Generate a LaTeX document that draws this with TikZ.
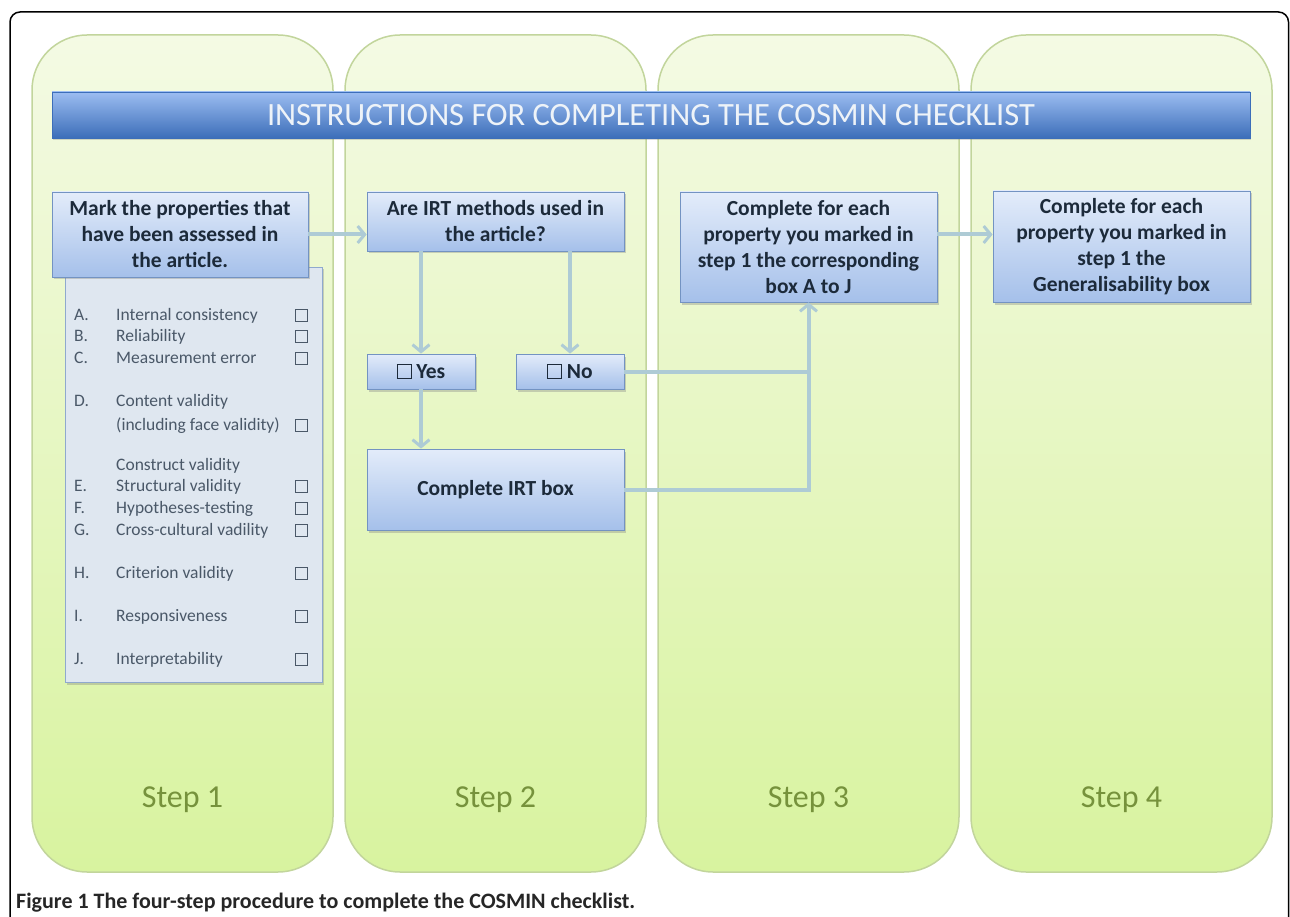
\documentclass[tikz,border=0pt]{standalone}
\usepackage{fontspec}
\setmainfont{Carlito}
\usepackage{tikz}
\usetikzlibrary{
    arrows.meta,
    shadows,
    calc,
    positioning
}
\definecolor{coltop}{HTML}{F4FAE4}
\definecolor{colbot}{HTML}{D8F39F}
\definecolor{colline}{HTML}{C2D59C}
\definecolor{boxtop}{HTML}{E3ECFA}
\definecolor{boxbot}{HTML}{A5C0EA}
\definecolor{boxline}{HTML}{7393C2}
\definecolor{boxtext}{HTML}{1C2A3A}
\definecolor{bartop}{HTML}{9CBDF1}
\definecolor{barbot}{HTML}{3C6EB9}
\definecolor{bartext}{HTML}{EEF3F8}
\definecolor{listfill}{HTML}{DFE7F0}
\definecolor{listtext}{HTML}{4A5868}
\definecolor{flowcol}{HTML}{AECBD5}
\definecolor{steptext}{HTML}{76923C}
\newcommand{\tickbox}{{\fboxsep=0pt\fboxrule=0.9pt\fbox{\rule{0pt}{13pt}\hspace{13pt}}}}
\tikzset{
    column/.style={rounded corners=55pt, draw=colline, line width=1.5pt,
        top color=coltop, bottom color=colbot,
        minimum width=301pt, minimum height=837pt},
    stepbox/.style={draw=boxline, line width=0.8pt, top color=boxtop, bottom color=boxbot,
        drop shadow={opacity=0.35, shadow xshift=1.5pt, shadow yshift=-2.5pt},
        font=\fontsize{21.5}{26}\selectfont\bfseries, text=boxtext, align=center, inner sep=0pt},
    listbox/.style={draw=boxline!80, line width=0.8pt, fill=listfill,
        drop shadow={opacity=0.35, shadow xshift=1.5pt, shadow yshift=-2.5pt}},
    itemtext/.style={anchor=base west, inner sep=0pt, text=listtext, font=\fontsize{17.5}{20}\selectfont},
    chkbox/.style={draw=listtext, line width=0.9pt, minimum size=12pt, inner sep=0pt},
    flow/.style={draw=flowcol, line width=4pt},
    flowarrow/.style={flow, -{Straight Barb[length=7pt, width=17pt, line width=3pt]}},
    steplabel/.style={text=steptext, font=\fontsize{32}{36}\selectfont}
}
\begin{document}
\begin{tikzpicture}[x=1pt, y=-1pt]
\useasboundingbox (0,0) rectangle (1290,917);
% frame
\draw[line width=1.5pt, rounded corners=10pt] (10,930) -- (10,12) -- (1288.5,12) -- (1288.5,930);
% the four step columns
\foreach \i in {1,...,4}
    \node[column] (col\i) at ({182.5+313*(\i-1)}, 453.5) {};
\foreach \i in {1,...,4}
    \node[steplabel] (step\i) at (col\i |- 0,800) {Step \i};
% title bar
\node[draw=barbot, line width=0.6pt, top color=bartop, bottom color=barbot,
    drop shadow={opacity=0.3, shadow xshift=1pt, shadow yshift=-2pt},
    minimum width=1198pt, minimum height=46pt, text=bartext,
    font=\fontsize{32.5}{36}\selectfont] (title) at (651,115)
    {INSTRUCTIONS FOR COMPLETING THE COSMIN CHECKLIST};
% step 1
\node[listbox, minimum width=257pt, minimum height=415pt] (list) at (193.5,474.5) {};
\node[stepbox, minimum width=256pt, minimum height=85pt] (mark) at (180,234.5)
    {Mark the properties that\\ have been assessed in\\ the article.};
\foreach \y/\lt/\txt in {315/A./Internal consistency, 336/B./Reliability,
        358/C./Measurement error, 401/D./Content validity,
        425//(including face validity), 465//Construct validity,
        486/E./Structural validity, 508/F./Hypotheses-testing,
        530/G./Cross-cultural vadility, 573/H./Criterion validity,
        616/I./Responsiveness, 659/J./Interpretability}
{
    \node[itemtext] (let\y) at (74,\y+5.5) {\lt};
    \node[itemtext] (item\y) at (116,\y+5.5) {\txt};
}
\foreach \y in {315,336,358,425,486,508,530,573,616,659}
    \node[chkbox] (chk\y) at (301,\y) {};
% step 2
\node[stepbox, minimum width=257pt, minimum height=59pt] (irtq) at (495.5,221.5)
    {Are IRT methods used in\\ the article?};
\node[stepbox, minimum width=108pt, minimum height=35pt] (yes) at (421,371.5) {\tickbox\ Yes};
\node[stepbox, minimum width=108pt, minimum height=35pt] (no) at (570,371.5) {\tickbox\ No};
\node[stepbox, minimum width=257pt, minimum height=81pt] (irtbox) at (495.5,489.5) {Complete IRT box};
% step 3 and 4
\node[stepbox, minimum width=257pt, minimum height=110pt] (boxaj) at (808.5,247)
    {Complete for each\\ property you marked in\\ step 1 the corresponding\\ box A to J};
\node[stepbox, minimum width=257pt, minimum height=111pt] (gen) at (1121.5,246.5)
    {Complete for each\\ property you marked in\\ step 1 the\\ Generalisability box};
% connectors
\draw[flowarrow] (mark.east) -- (irtq.west |- mark.east);
\draw[flowarrow] (irtq.south -| yes) -- (yes.north);
\draw[flowarrow] (irtq.south -| no) -- (no.north);
\draw[flowarrow] (yes.south) -- (irtbox.north -| yes);
\draw[flow] (no.east) -- (no.east -| boxaj.south);
\draw[flowarrow] (irtbox.east) -| (boxaj.south);
\draw[flowarrow] (boxaj.east |- mark.east) -- (gen.west |- mark.east);
% caption
\node[anchor=base west, inner sep=0pt, font=\fontsize{22}{26}\selectfont\bfseries, text=black!85]
    (caption) at (16,908) {Figure 1 The four-step procedure to complete the COSMIN checklist.};
\end{tikzpicture}
\end{document}
